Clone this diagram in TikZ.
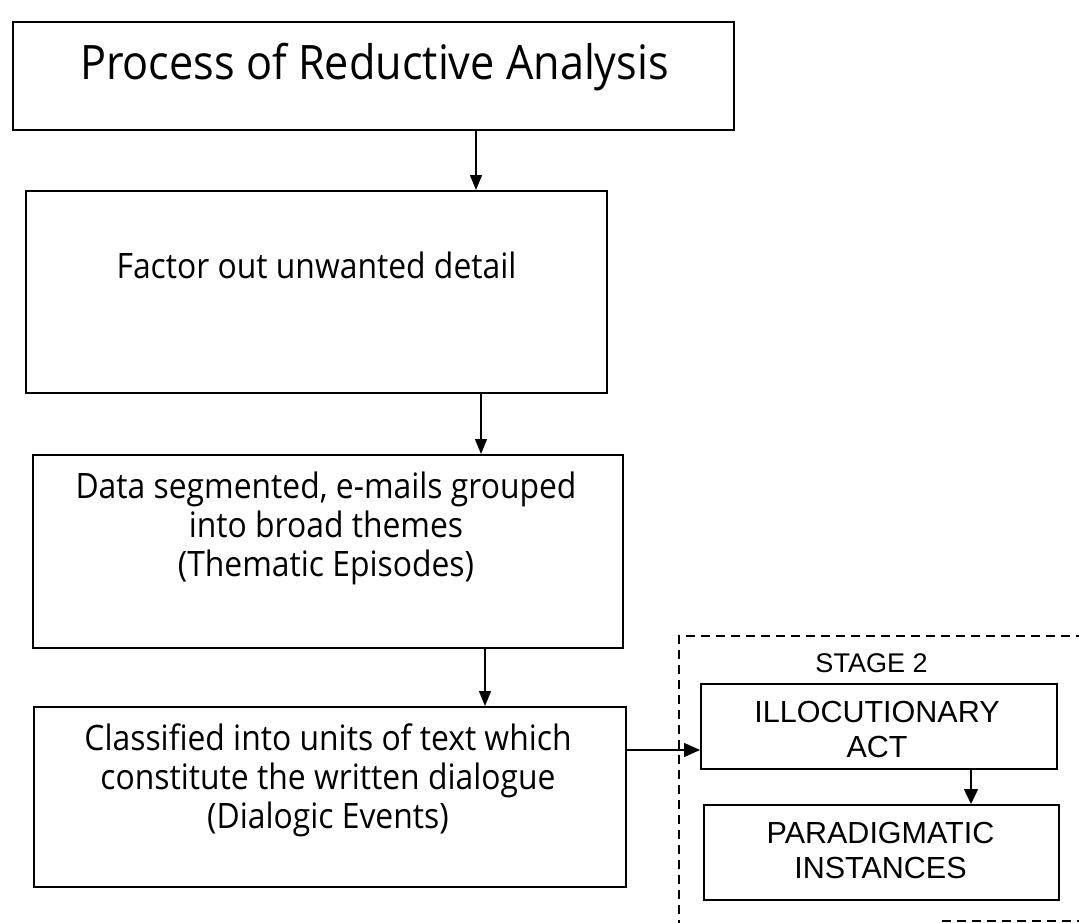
\documentclass[tikz,border=0pt]{standalone}
\usepackage{fontspec}
\usetikzlibrary{arrows.meta}
\newfontfamily\rafont[FakeStretch=0.91]{Open Sans}
\newfontfamily\stfont{Liberation Sans}
\begin{document}
\begin{tikzpicture}[x=1pt,y=-1pt,
  box/.style={draw, line width=2pt, rectangle, inner sep=0pt},
  bigtext/.style={font=\rafont\fontsize{47.5}{55}\selectfont, inner sep=0pt, anchor=base},
  maintext/.style={font=\rafont\fontsize{35}{39}\selectfont, inner sep=0pt, anchor=base, align=center},
  stagetext/.style={font=\stfont\fontsize{27}{32}\selectfont, inner sep=0pt, anchor=base},
  smalltext/.style={font=\stfont\fontsize{30.5}{34.5}\selectfont, inner sep=0pt, anchor=base, align=center},
  arr/.style={-{Triangle[length=15pt,width=12pt]}, line width=1.5pt},
  dashline/.style={line width=1.8pt, dash pattern=on 9pt off 6pt}]
\useasboundingbox (0,0) rectangle (1079,923);

% main boxes
\node[box, minimum width=721pt, minimum height=108pt] (b1) at (373.5,76) {};
\node[box, minimum width=581pt, minimum height=202pt] (b2) at (316.5,292) {};
\node[box, minimum width=590pt, minimum height=193pt] (b3) at (328,551.5) {};
\node[box, minimum width=592pt, minimum height=180pt] (b4) at (330,797) {};

% texts (base anchor = baseline of the last line)
\node[bigtext] (t1) at (374.5,80) {Process of Reductive Analysis};
\node[maintext] (t2) at (316.5,278) {Factor out unwanted detail};
\node[maintext] (t3) at (326,576) {Data segmented, e-mails grouped\\into broad themes\\(Thematic Episodes)};
\node[maintext] (t4) at (328,828) {Classified into units of text which\\constitute the written dialogue\\(Dialogic Events)};

% stage 2 frame
\coordinate (dtr) at (1085,636);
\coordinate (dtl) at (679,636);
\coordinate (dbl) at (679,930);
\coordinate (dbs) at (942,921);
\coordinate (dbr) at (1085,921);
\draw[dashline] (dtr) -- (dtl) -- (dbl);
\draw[dashline] (dbs) -- (dbr);
\node[stagetext] (st) at (871.5,672) {STAGE 2};

\node[box, minimum width=356pt, minimum height=85pt] (ill) at (879,726.5) {};
\node[box, minimum width=355pt, minimum height=95pt] (par) at (881.5,852.5) {};
\node[smalltext] (till) at (877,757) {ILLOCUTIONARY\\ACT};
\node[smalltext] (tpar) at (880.5,878) {PARADIGMATIC\\INSTANCES};

% connectors
\coordinate (c1) at (476,0);
\coordinate (c2) at (481,0);
\coordinate (c3) at (485,0);
\coordinate (c4) at (0,750);
\coordinate (c5) at (971,0);
\draw[arr] (b1.south -| c1) -- (b2.north -| c1);
\draw[arr] (b2.south -| c2) -- (b3.north -| c2);
\draw[arr] (b3.south -| c3) -- (b4.north -| c3);
\draw[arr, -{Triangle[length=16pt,width=14pt]}] (b4.east |- c4) -- (ill.west |- c4);
\draw[arr, -{Triangle[length=15pt,width=14pt]}] (ill.south -| c5) -- (par.north -| c5);
\end{tikzpicture}
\end{document}
